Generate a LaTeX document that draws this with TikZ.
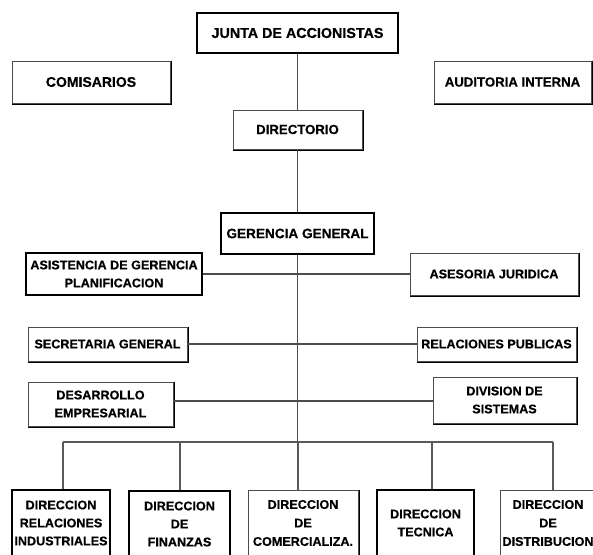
\documentclass[tikz,border=0pt]{standalone}
\usepackage{fontspec}
\setmainfont{Liberation Sans}[BoldFeatures={FakeBold=0.6}]
\begin{document}
\begin{tikzpicture}[x=1pt,y=-1pt,
  box/.style={draw=black!70, line width=1pt, fill=white, inner sep=0pt,
    align=center, font=\bfseries\fontsize{12.6}{18}\selectfont},
  topbox/.style={box, font=\bfseries\fontsize{13.2}{16}\selectfont},
  strongbox/.style={box, draw=black, line width=2pt},
  dirbox/.style={box, font=\bfseries\fontsize{12.6}{18.5}\selectfont,
    minimum height=66pt},
  shade edge/.style={draw=black, line width=1.6pt},
  link/.style={draw=black!70, line width=1.4pt},
  bus/.style={draw=black!65, line width=2pt}]
\useasboundingbox (0,0) rectangle (593,554);
\clip (0,0) rectangle (593,554);
\fill[white] (0,0) rectangle (593,554);

% upper levels
\node[topbox, strongbox, minimum width=201pt, minimum height=40pt,
  font=\bfseries\fontsize{14.3}{16}\selectfont] (junta) at (297.5,33) {JUNTA DE ACCIONISTAS};
\node[topbox, minimum width=158pt, minimum height=42pt,
  font=\bfseries\fontsize{14}{16}\selectfont] (comis) at (91,82) {COMISARIOS};
\node[topbox, minimum width=157pt, minimum height=42pt] (audit) at (512.5,82) {AUDITORIA INTERNA};
\node[topbox, minimum width=129pt, minimum height=39pt] (direct) at (297.5,129.5) {DIRECTORIO};
\node[topbox, strongbox, minimum width=153pt, minimum height=41pt,
  font=\bfseries\fontsize{13.6}{16}\selectfont] (geren) at (297.5,233.5) {GERENCIA GENERAL};

% staff units
\node[box, strongbox, minimum width=176pt, minimum height=42pt] (asist) at (114,274) {ASISTENCIA DE GERENCIA\\PLANIFICACION};
\node[box, minimum width=168pt, minimum height=42pt] (aseso) at (494,274) {ASESORIA JURIDICA};
\node[box, minimum width=159pt, minimum height=34pt] (secre) at (107.5,344) {SECRETARIA GENERAL};
\node[box, minimum width=159pt, minimum height=34pt] (relpub) at (496.5,344) {RELACIONES PUBLICAS};
\node[box, minimum width=145pt, minimum height=44pt] (desar) at (100.5,404) {DESARROLLO\\EMPRESARIAL};
\node[box, minimum width=143pt, minimum height=46pt] (divsis) at (504.5,400) {DIVISION DE\\SISTEMAS};

% line directorates
\node[dirbox, strongbox, minimum width=98pt] (drel) at (61,523) {DIRECCION\\RELACIONES\\INDUSTRIALES};
\node[dirbox, strongbox, minimum width=101pt] (dfin) at (179.5,524) {DIRECCION\\DE\\FINANZAS};
\node[dirbox, minimum width=110pt] (dcom) at (303,523) {DIRECCION\\DE\\COMERCIALIZA.};
\node[dirbox, strongbox, minimum width=97pt] (dtec) at (425.5,523) {DIRECCION\\TECNICA};
\node[dirbox, minimum width=96pt] (ddis) at (548,523) {DIRECCION\\DE\\DISTRIBUCION};

% heavier right and bottom edges
\foreach \n in {comis,audit,direct,aseso,secre,relpub,desar,divsis,dcom,ddis}
  \draw[shade edge] ([xshift=0.8pt]\n.north east) -- ([xshift=0.8pt,yshift=-0.8pt]\n.south east) -- ([yshift=-0.8pt]\n.south west);

% chain of command
\draw[link] (junta.south) -- (direct.north);
\draw[link] (direct.south) -- (geren.north);
\coordinate (hub) at (297.5,442);
\draw[link] (geren.south) -- (hub);
\draw[link] (asist.east) -- (aseso.west |- asist.east);
\draw[link] (secre.east) -- (relpub.west);
\draw[link] (desar.east |- 0,401) -- (divsis.west |- 0,401);

% bus to the directorates
\draw[bus] ([xshift=2pt]drel.north |- hub) -- ([xshift=5pt]ddis.north |- hub);
\draw[bus] ([xshift=2pt]drel.north |- hub) -- ([xshift=2pt]drel.north);
\draw[bus] ([xshift=0.5pt]dfin.north |- hub) -- ([xshift=0.5pt]dfin.north);
\draw[bus] ([xshift=-5.5pt]dcom.north |- hub) -- ([xshift=-5.5pt]dcom.north);
\draw[bus] ([xshift=6.5pt]dtec.north |- hub) -- ([xshift=6.5pt]dtec.north);
\draw[bus] ([xshift=5pt]ddis.north |- hub) -- ([xshift=5pt]ddis.north);
\end{tikzpicture}
\end{document}
